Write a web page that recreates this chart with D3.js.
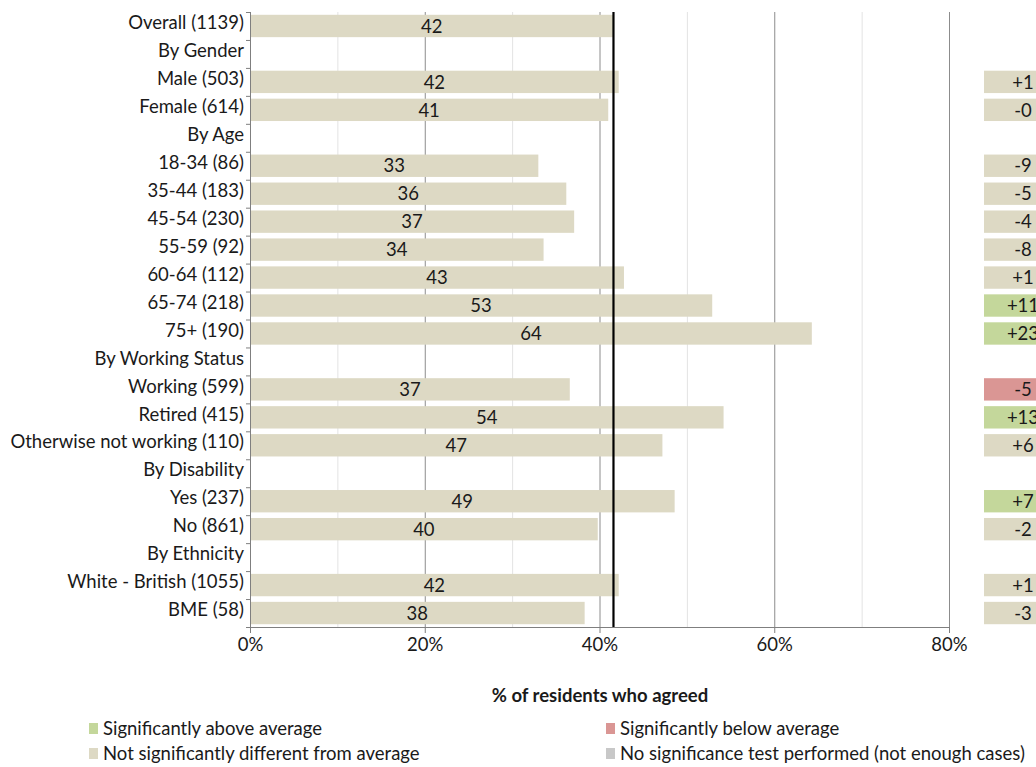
<!DOCTYPE html>
<html>
<head>
<meta charset="utf-8">
<script src="https://cdn.jsdelivr.net/npm/d3@7"></script>
<style>
  html, body { margin: 0; padding: 0; background: #fff; }
  svg { display: block; font-family: Lato, "Open Sans", "Noto Sans", sans-serif; }
</style>
</head>
<body>
<svg id="chart" width="1036" height="767"></svg>
<script>
// Row labels (header rows have no value)
const categories = [
  "Overall (1139)", "By Gender", "Male (503)", "Female (614)", "By Age",
  "18-34 (86)", "35-44 (183)", "45-54 (230)", "55-59 (92)", "60-64 (112)",
  "65-74 (218)", "75+ (190)", "By Working Status", "Working (599)", "Retired (415)",
  "Otherwise not working (110)", "By Disability", "Yes (237)", "No (861)",
  "By Ethnicity", "White - British (1055)", "BME (58)"
];
// % agreeing per row (null for headers)
const values = [
  41.6, null, 42.2, 41.0, null,
  33.0, 36.2, 37.1, 33.6, 42.8,
  52.9, 64.3, null, 36.6, 54.2,
  47.2, null, 48.6, 39.8,
  null, 42.2, 38.3
];
// Difference from overall, as printed
const diffs = [
  null, null, "+1", "-0", null,
  "-9", "-5", "-4", "-8", "+1",
  "+11", "+23", null, "-5", "+13",
  "+6", null, "+7", "-2",
  null, "+1", "-3"
];
// Significance: "above", "below", "ns", "none"
const significance = [
  null, null, "ns", "ns", null,
  "ns", "ns", "ns", "ns", "ns",
  "above", "above", null, "below", "above",
  "ns", null, "above", "ns",
  null, "ns", "ns"
];
const overallAverage = 41.6;
const xTicks = [0, 20, 40, 60, 80];
const minorTicks = [10, 30, 50, 70];
const legendItems = [
  {key: "above", label: "Significantly above average"},
  {key: "below", label: "Significantly below average"},
  {key: "ns", label: "Not significantly different from average"},
  {key: "none", label: "No significance test performed (not enough cases)"}
];

const colors = { above: "#c4d79b", below: "#da9694", ns: "#ddd9c4", none: "#c8c8c8" };
const barColor = "#ddd9c4";
const fontSize = 18.5;

const svg = d3.select("#chart");
const plotLeft = 250, plotRight = 949, plotTop = 12, plotBottom = 627;

const x = d3.scaleLinear().domain([0, 80]).range([plotLeft, plotRight]);
const y = d3.scaleBand().domain(d3.range(categories.length)).range([plotTop, plotBottom]).paddingInner(0.2).paddingOuter(0.1);
const rowH = (plotBottom - plotTop) / categories.length;

// Gridlines
svg.append("g").selectAll("line").data(minorTicks).join("line")
  .attr("x1", d => x(d) + 0.5).attr("x2", d => x(d) + 0.5)
  .attr("y1", plotTop).attr("y2", plotBottom)
  .attr("stroke", "#e3e3e3").attr("stroke-width", 1);
svg.append("g").selectAll("line").data(xTicks.slice(1)).join("line")
  .attr("x1", d => x(d) + 0.5).attr("x2", d => x(d) + 0.5)
  .attr("y1", plotTop).attr("y2", plotBottom)
  .attr("stroke", "#8c8c8c").attr("stroke-width", 1);

// Bars
const rows = categories.map((c, i) => ({i, c, v: values[i], d: diffs[i], s: significance[i]}));
const dataRows = rows.filter(r => r.v !== null);

svg.append("g").selectAll("rect").data(dataRows).join("rect")
  .attr("x", x(0) + 1)
  .attr("y", r => y(r.i))
  .attr("width", r => x(r.v) - x(0) - 1)
  .attr("height", y.bandwidth())
  .attr("fill", barColor);

svg.append("g").selectAll("text").data(dataRows).join("text")
  .attr("x", r => (x(0) + x(r.v)) / 2)
  .attr("y", r => y(r.i) + y.bandwidth() / 2)
  .attr("dy", "0.36em")
  .attr("text-anchor", "middle")
  .attr("font-size", fontSize)
  .attr("fill", "#1a1a1a")
  .text(r => Math.round(r.v));

// Overall average line
svg.append("line")
  .attr("x1", x(overallAverage)).attr("x2", x(overallAverage))
  .attr("y1", plotTop).attr("y2", plotBottom)
  .attr("stroke", "#000").attr("stroke-width", 2.2);

// Y axis with ticks between rows
const yAxis = svg.append("g");
yAxis.append("line").attr("x1", plotLeft + 0.5).attr("x2", plotLeft + 0.5)
  .attr("y1", plotTop).attr("y2", plotBottom).attr("stroke", "#7f7f7f");
yAxis.selectAll("line.tick").data(d3.range(categories.length + 1)).join("line")
  .attr("class", "tick")
  .attr("x1", plotLeft - 4).attr("x2", plotLeft)
  .attr("y1", i => plotTop + i * rowH + 0.5)
  .attr("y2", i => plotTop + i * rowH + 0.5)
  .attr("stroke", "#7f7f7f");
yAxis.selectAll("text").data(rows).join("text")
  .attr("x", plotLeft - 6)
  .attr("y", r => plotTop + (r.i + 0.5) * rowH - 3.5)
  .attr("dy", "0.36em")
  .attr("text-anchor", "end")
  .attr("font-size", fontSize)
  .attr("fill", "#1a1a1a")
  .text(r => r.c);

// X axis
const xAxis = d3.axisBottom(x).tickValues(xTicks).tickFormat(d => d + "%").tickSize(6).tickSizeOuter(0);
const gx = svg.append("g").attr("transform", `translate(0,${plotBottom})`).call(xAxis);
gx.select(".domain").attr("stroke", "#7f7f7f");
gx.selectAll(".tick line").attr("stroke", "#7f7f7f");
gx.selectAll(".tick text").attr("font-size", fontSize).attr("fill", "#1a1a1a").attr("dy", "0.8em")
  .attr("font-family", "Lato, 'Open Sans', sans-serif");

// Difference boxes on the right
const diffRows = rows.filter(r => r.d !== null);
svg.append("g").selectAll("rect").data(diffRows).join("rect")
  .attr("x", 984)
  .attr("y", r => y(r.i))
  .attr("width", 80)
  .attr("height", y.bandwidth())
  .attr("fill", r => colors[r.s]);
svg.append("g").selectAll("text").data(diffRows).join("text")
  .attr("x", 1023)
  .attr("y", r => y(r.i) + y.bandwidth() / 2)
  .attr("dy", "0.36em")
  .attr("text-anchor", "middle")
  .attr("font-size", fontSize)
  .attr("fill", "#1a1a1a")
  .text(r => r.d);

// Axis title
svg.append("text")
  .attr("x", 600).attr("y", 695)
  .attr("dy", "0.36em")
  .attr("text-anchor", "middle")
  .attr("font-size", fontSize).attr("font-weight", "bold")
  .attr("fill", "#1a1a1a")
  .text("% of residents who agreed");

// Legend
const legendPos = [
  {x: 89, y: 728}, {x: 606, y: 728}, {x: 89, y: 753}, {x: 606, y: 753}
];
const lg = svg.append("g").selectAll("g").data(legendItems).join("g")
  .attr("transform", (d, i) => `translate(${legendPos[i].x},${legendPos[i].y})`);
lg.append("rect").attr("x", 0).attr("y", -5).attr("width", 9).attr("height", 11)
  .attr("fill", d => colors[d.key]);
lg.append("text").attr("x", 14).attr("dy", "0.36em")
  .attr("font-size", fontSize).attr("fill", "#1a1a1a")
  .text(d => d.label);
</script>
</body>
</html>
